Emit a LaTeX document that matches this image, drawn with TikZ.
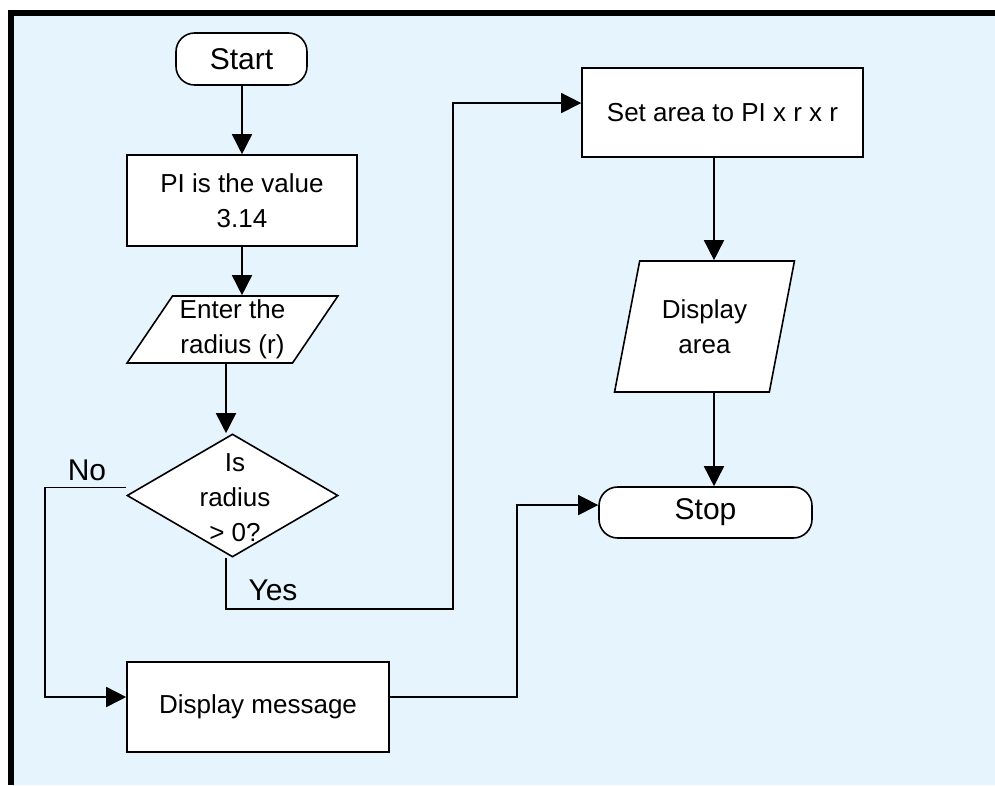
\documentclass[tikz,border=0pt]{standalone}
\usepackage{fontspec}
\setmainfont{Liberation Sans}
\usetikzlibrary{shapes.geometric,arrows.meta}
\definecolor{bgblue}{RGB}{230,244,254}

\begin{document}
\begin{tikzpicture}[x=0.75pt,y=0.75pt,yscale=-1,xscale=1,
  every node/.style={font=\fontsize{19.5}{26.25}\selectfont},
  proc/.style={draw,fill=white,line width=1.2pt,align=center,inner sep=0pt},
  term/.style={proc,rounded corners=14pt,font=\fontsize{22.5}{27}\selectfont},
  io/.style={proc,trapezium,trapezium stretches},
  decbox/.style={proc,diamond},
  arr/.style={line width=1.2pt,-{Triangle[length=15pt,width=15pt]}},
  lbl/.style={font=\fontsize{22.5}{27}\selectfont}]
\useasboundingbox (0,0) rectangle (995,785);

%Frame
\fill[white] (0,0) rectangle (995,785);
\fill[black] (8,10) rectangle (995,785);
\fill[bgblue] (14,16) rectangle (995,785);

%Shapes
\node[term,minimum width=98.25pt,minimum height=39pt] (start) at (241.5,59) {Start};
\node[proc,minimum width=172.5pt,minimum height=68.25pt] (pi) at (242,200.5) {PI is the value\\3.14};
\node[io,trapezium left angle=56,trapezium right angle=124,minimum width=158.25pt,minimum height=50.25pt] (inp) at (232.5,329.5) {Enter the\\radius (r)};
\node[decbox,minimum width=158.25pt,minimum height=92.25pt] (dec) at (232.5,495.5) {};
\node (dectxt) at (235,498) [align=center] {Is\\radius\\> 0?};
\node[proc,minimum width=210.75pt,minimum height=66.75pt] (set) at (722.5,112.5) {Set area to PI x r x r};
\node[io,trapezium left angle=73,trapezium right angle=107,minimum width=135.75pt,minimum height=98.25pt] (outp) at (704.5,326.5) {Display\\area};
\node[term,minimum width=159.75pt,minimum height=38.25pt] (stop) at (705.5,512.5) {Stop};
\node[proc,minimum width=196.5pt,minimum height=67.5pt] (msg) at (258,707) {Display message};

%Columns and bends
\coordinate (mcol) at (242,0);
\coordinate (lcol) at (226,0);
\coordinate (rcol) at (714,0);
\coordinate (yesc) at (453,609);
\coordinate (noc) at (45,697);
\coordinate (msgc) at (517,697);

%Straight Lines
\draw[arr] (start.south -| mcol) -- (pi.north -| mcol);
\draw[arr] (pi.south -| mcol) -- (inp.north -| mcol);
\draw[arr] (inp.south -| lcol) -- (dec.north -| lcol);
\draw[arr] (dec.south -| lcol) |- (yesc) |- ([yshift=-7.1pt]set.west);
\draw[arr] (set.south -| rcol) -- (outp.north -| rcol);
\draw[arr] (outp.south -| rcol) -- (stop.north -| rcol);
\draw[arr] ([yshift=-6pt]dec.west) -| (noc) -- (noc -| msg.west);
\draw[arr] (msgc -| msg.east) -- (msgc) |- ([yshift=-5.6pt]stop.west);

% Text Node
\node[lbl] (nolbl) at (87,470) {No};
% Text Node
\node[lbl] (yeslbl) at (273,590) {Yes};

\end{tikzpicture}
\end{document}
